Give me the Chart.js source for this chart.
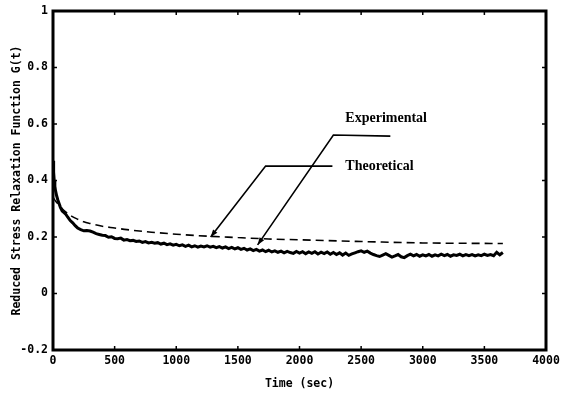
<!DOCTYPE html>
<html>
<head>
<meta charset="utf-8">
<script src="https://cdn.jsdelivr.net/npm/chart.js@4.4.1/dist/chart.umd.min.js"></script>
<style>
  html, body { margin: 0; padding: 0; background: #fff; }
  #wrap { width: 561px; height: 400px; }
</style>
</head>
<body>
<div id="wrap"><canvas id="relax-chart" width="561" height="400"></canvas></div>
<script>
// Reduced stress relaxation function vs time
const xTickLabels = ['0', '500', '1000', '1500', '2000', '2500', '3000', '3500', '4000'];
const yTickLabels = ['-0.2', '0', '0.2', '0.4', '0.6', '0.8', '1'];

const expTime = [0, 5, 10, 15, 20, 30, 40, 50, 60, 75, 90, 105, 120, 140, 160, 180, 200, 225, 250, 275, 300, 325, 350, 375, 400,
    425, 450, 475, 500, 525, 550, 575, 600, 625, 650, 675, 700, 725, 750, 775, 800, 825, 850, 875, 900, 925, 950, 975, 1000,
    1025, 1050, 1075, 1100, 1125, 1150, 1175, 1200, 1225, 1250, 1275, 1300, 1325, 1350, 1375, 1400, 1425, 1450, 1475, 1500,
    1525, 1550, 1575, 1600, 1625, 1650, 1675, 1700, 1725, 1750, 1775, 1800, 1825, 1850, 1875, 1900, 1925, 1950, 1975, 2000,
    2025, 2050, 2075, 2100, 2125, 2150, 2175, 2200, 2225, 2250, 2275, 2300, 2325, 2350, 2375, 2400, 2425, 2450, 2475, 2500,
    2525, 2550, 2575, 2600, 2625, 2650, 2675, 2700, 2725, 2750, 2775, 2800, 2825, 2850, 2875, 2900, 2925, 2950, 2975, 3000,
    3025, 3050, 3075, 3100, 3125, 3150, 3175, 3200, 3225, 3250, 3275, 3300, 3325, 3350, 3375, 3400, 3425, 3450, 3475, 3500,
    3525, 3550, 3575, 3600, 3625, 3650];
const expG = [0.47, 0.43, 0.40, 0.38, 0.365, 0.345, 0.33, 0.318, 0.305, 0.292, 0.286, 0.28, 0.27, 0.258, 0.25, 0.24, 0.232, 0.226, 0.222, 0.223, 0.221, 0.217, 0.212, 0.209, 0.206,
    0.205, 0.199, 0.201, 0.195, 0.194, 0.196, 0.189, 0.191, 0.187, 0.188, 0.184, 0.186, 0.181, 0.184, 0.179, 0.181, 0.178, 0.18, 0.175, 0.178, 0.173, 0.176, 0.171, 0.174,
    0.169, 0.172, 0.167, 0.171, 0.165, 0.169, 0.164, 0.168, 0.165, 0.169, 0.164, 0.167, 0.162, 0.166, 0.161, 0.165, 0.159, 0.163, 0.158, 0.162,
    0.156, 0.16, 0.154, 0.158, 0.152, 0.156, 0.15, 0.154, 0.148, 0.153, 0.147, 0.151, 0.146, 0.15, 0.144, 0.149, 0.145, 0.142, 0.149, 0.143,
    0.148, 0.141, 0.147, 0.142, 0.148, 0.14, 0.146, 0.141, 0.147, 0.139, 0.145, 0.138, 0.144, 0.136, 0.143, 0.135, 0.14, 0.144, 0.148, 0.151,
    0.146, 0.15, 0.143, 0.138, 0.134, 0.131, 0.136, 0.141, 0.135, 0.129, 0.133, 0.138, 0.13, 0.127, 0.134, 0.139, 0.133, 0.138, 0.132, 0.137,
    0.133, 0.138, 0.132, 0.137, 0.133, 0.139, 0.134, 0.138, 0.132, 0.137, 0.135, 0.139, 0.133, 0.138, 0.134, 0.138, 0.133, 0.137, 0.134, 0.139,
    0.135, 0.138, 0.134, 0.146, 0.137, 0.145];

const theoTime = [0, 25, 50, 75, 100, 150, 200, 250, 300, 400, 500, 600, 800, 1000, 1250, 1500, 1750, 2000, 2500, 3000, 3650];
const theoG = [0.34, 0.325, 0.312, 0.30, 0.29, 0.274, 0.263, 0.254, 0.248, 0.238, 0.232, 0.226, 0.217, 0.21, 0.203, 0.198, 0.193, 0.19, 0.184, 0.179, 0.177];

// label callouts, in data units: text anchor, elbow/end of the leader, arrow tip
const callouts = [
    { text: 'Experimental', at: [2372, 0.621], lineEnd: [2737, 0.557], elbow: [2275, 0.561], tip: [1660, 0.172] },
    { text: 'Theoretical', at: [2372, 0.449], lineEnd: [2267, 0.451], elbow: [1725, 0.451], tip: [1279, 0.2] }
];

const expPoints = expTime.map((t, i) => ({ x: t, y: expG[i] }));
const theoPoints = theoTime.map((t, i) => ({ x: t, y: theoG[i] }));

// frame, inward tick marks and the arrow callouts
const framePlugin = {
    id: 'frame',
    afterDatasetsDraw(chart) {
        const { ctx, chartArea: a, scales: { x, y } } = chart;
        ctx.save();
        ctx.strokeStyle = '#000';
        ctx.lineWidth = 1.5;
        ctx.beginPath();
        x.ticks.forEach(t => {
            const px = x.getPixelForValue(t.value);
            ctx.moveTo(px, a.bottom); ctx.lineTo(px, a.bottom - 4);
            ctx.moveTo(px, a.top); ctx.lineTo(px, a.top + 4);
        });
        y.ticks.forEach(t => {
            const py = y.getPixelForValue(t.value);
            ctx.moveTo(a.left, py); ctx.lineTo(a.left + 4, py);
            ctx.moveTo(a.right, py); ctx.lineTo(a.right - 4, py);
        });
        ctx.stroke();

        ctx.lineWidth = 3;
        ctx.strokeRect(a.left, a.top, a.right - a.left, a.bottom - a.top);

        callouts.forEach(c => {
            const px = p => [x.getPixelForValue(p[0]), y.getPixelForValue(p[1])];
            const e = px(c.elbow), le = px(c.lineEnd), tp = px(c.tip);
            ctx.lineWidth = 1.6;
            ctx.beginPath();
            ctx.moveTo(le[0], le[1]);
            ctx.lineTo(e[0], e[1]);
            ctx.lineTo(tp[0], tp[1]);
            ctx.stroke();
            // arrow head
            const ang = Math.atan2(tp[1] - e[1], tp[0] - e[0]);
            ctx.beginPath();
            ctx.moveTo(tp[0], tp[1]);
            ctx.lineTo(tp[0] - 8 * Math.cos(ang - 0.35), tp[1] - 8 * Math.sin(ang - 0.35));
            ctx.lineTo(tp[0] - 8 * Math.cos(ang + 0.35), tp[1] - 8 * Math.sin(ang + 0.35));
            ctx.closePath();
            ctx.fillStyle = '#000';
            ctx.fill();

            const at = px(c.at);
            ctx.font = 'bold 14px "Liberation Serif", "Times New Roman", serif';
            ctx.textAlign = 'left';
            ctx.textBaseline = 'middle';
            ctx.fillText(c.text, at[0], at[1]);
        });
        ctx.restore();
    }
};

const tickFont = { family: '"DejaVu Sans Mono", monospace', size: 11.5, weight: 'bold' };

const relaxChart = new Chart(document.getElementById('relax-chart').getContext('2d'), {
    type: 'line',
    data: {
        datasets: [{
            label: 'Experimental',
            data: expPoints,
            borderColor: '#000',
            borderWidth: 3,
            pointRadius: 0,
            tension: 0,
            fill: false
        }, {
            label: 'Theoretical',
            data: theoPoints,
            borderColor: '#000',
            borderWidth: 1.6,
            borderDash: [8, 5],
            pointRadius: 0,
            cubicInterpolationMode: 'monotone',
            fill: false
        }]
    },
    options: {
        responsive: false,
        animation: false,
        layout: { padding: { top: 11, right: 15, left: 0, bottom: 0 } },
        plugins: {
            legend: { display: false },
            tooltip: { enabled: false }
        },
        scales: {
            x: {
                type: 'linear',
                min: 0,
                max: 4000,
                afterFit: s => { s.height = 50; s.paddingLeft = 0; s.paddingRight = 0; },
                grid: { display: false, drawTicks: false },
                border: { display: false },
                ticks: {
                    stepSize: 500,
                    padding: 4,
                    color: '#000',
                    font: tickFont,
                    maxRotation: 0,
                    callback: (v, i) => xTickLabels[i]
                },
                title: {
                    display: true,
                    text: 'Time (sec)',
                    color: '#000',
                    font: tickFont,
                    padding: { top: 0, bottom: 9 }
                }
            },
            y: {
                min: -0.2,
                max: 1,
                afterFit: s => { s.width = 53; s.paddingTop = 0; s.paddingBottom = 0; },
                grid: { display: false, drawTicks: false },
                border: { display: false },
                ticks: {
                    stepSize: 0.2,
                    padding: 5,
                    color: '#000',
                    font: tickFont,
                    callback: (v, i) => yTickLabels[i]
                },
                title: {
                    display: true,
                    text: 'Reduced Stress Relaxation Function G(t)',
                    color: '#000',
                    font: tickFont,
                    padding: { top: 10, bottom: 0 }
                }
            }
        }
    },
    plugins: [framePlugin]
});
</script>
</body>
</html>
